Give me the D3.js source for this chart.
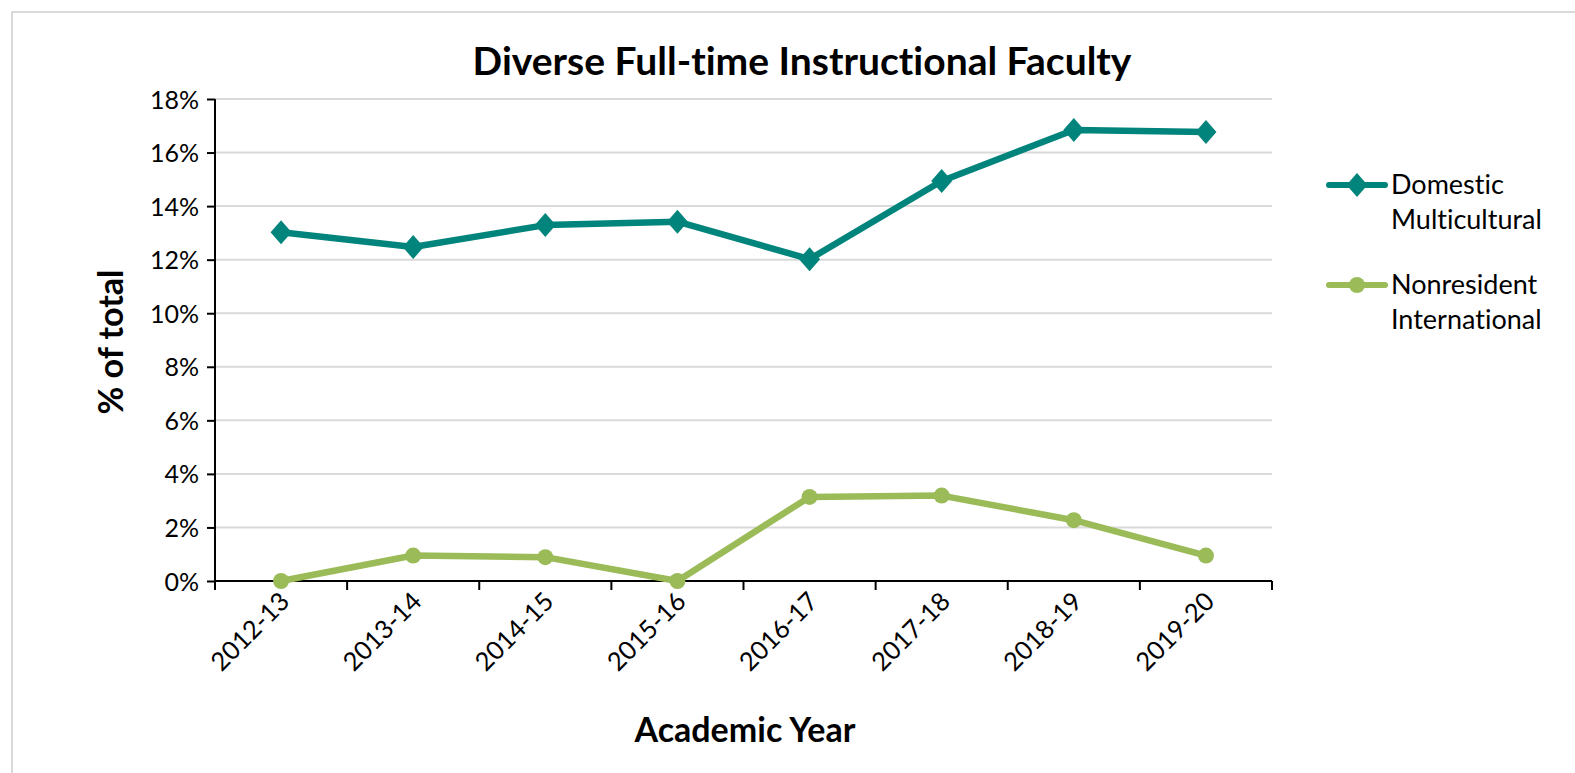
<!DOCTYPE html>
<html>
<head>
<meta charset="utf-8">
<script src="https://cdn.jsdelivr.net/npm/d3@7"></script>
<style>
  body { margin: 0; background: #fff; }
  svg { font-family: Lato, "Open Sans", sans-serif; font-variant-ligatures: none; }
  .grid line { stroke: #d9d9d9; stroke-width: 2; }
</style>
</head>
<body>
<svg width="1575" height="773"></svg>
<script>
var years = ["2012-13", "2013-14", "2014-15", "2015-16", "2016-17", "2017-18", "2018-19", "2019-20"];
var domestic = [13.02, 12.47, 13.29, 13.42, 12.02, 14.94, 16.84, 16.77];
var nonresident = [0, 0.95, 0.89, 0, 3.14, 3.19, 2.27, 0.95];
var yTicks = [0, 2, 4, 6, 8, 10, 12, 14, 16, 18];
var seriesNames = [["Domestic", "Multicultural"], ["Nonresident", "International"]];

var teal = "#00847b", green = "#9bbb59";

var svg = d3.select("svg");

// chart border
svg.append("rect")
  .attr("x", 12).attr("y", 12)
  .attr("width", 1600).attr("height", 800)
  .attr("fill", "none").attr("stroke", "#d9d9d9").attr("stroke-width", 2);

var plotLeft = 215, plotRight = 1272, plotTop = 99, plotBottom = 581;

var x = d3.scaleBand().domain(years).range([plotLeft, plotRight]);
var y = d3.scaleLinear().domain([0, 18]).range([plotBottom, plotTop]);
var cx = function(d) { return x(d) + x.bandwidth() / 2; };

// gridlines
svg.append("g").attr("class", "grid")
  .selectAll("line").data(yTicks.slice(1)).enter().append("line")
  .attr("x1", plotLeft).attr("x2", plotRight)
  .attr("y1", function(d) { return y(d); }).attr("y2", function(d) { return y(d); });

// y axis
svg.append("g")
  .attr("transform", "translate(" + plotLeft + ",0)")
  .call(d3.axisLeft(y).tickValues(yTicks).tickFormat(function(d) { return d + "%"; }).tickSize(8).tickPadding(8))
  .call(function(g) {
    g.select(".domain").attr("stroke", "#000").attr("stroke-width", 2).attr("d", "M0," + plotTop + "V" + plotBottom);
    g.selectAll(".tick line").attr("stroke", "#000").attr("stroke-width", 2);
    g.selectAll(".tick text").attr("font-size", 25).attr("fill", "#000").attr("dy", "0.36em")
      .attr("font-family", "Lato, sans-serif");
  });

// x axis: ticks on band boundaries
var xg = svg.append("g");
xg.append("line").attr("x1", plotLeft).attr("x2", plotRight).attr("y1", plotBottom).attr("y2", plotBottom)
  .attr("stroke", "#000").attr("stroke-width", 2);
xg.selectAll(".xt").data(years.concat(["end"])).enter().append("line")
  .attr("x1", function(d) { return d === "end" ? plotRight : x(d); })
  .attr("x2", function(d) { return d === "end" ? plotRight : x(d); })
  .attr("y1", plotBottom).attr("y2", plotBottom + 9)
  .attr("stroke", "#000").attr("stroke-width", 2);
xg.selectAll(".xl").data(years).enter().append("text")
  .attr("transform", function(d) { return "translate(" + (cx(d) + 10) + "," + (plotBottom + 22) + ") rotate(-45)"; })
  .attr("text-anchor", "end")
  .attr("font-size", 25.5)
  .text(function(d) { return d; });

// lines
var line = d3.line().x(function(d, i) { return cx(years[i]); }).y(function(d) { return y(d); });
var diamondPath = "M0,-12L10.5,0L0,12L-10.5,0Z";

svg.append("path").datum(nonresident)
  .attr("d", line).attr("fill", "none").attr("stroke", green).attr("stroke-width", 6.5).attr("stroke-linejoin", "round");
svg.append("g").selectAll("circle").data(nonresident).enter().append("circle")
  .attr("cx", function(d, i) { return cx(years[i]); }).attr("cy", function(d) { return y(d); })
  .attr("r", 8).attr("fill", green);

svg.append("path").datum(domestic)
  .attr("d", line).attr("fill", "none").attr("stroke", teal).attr("stroke-width", 6.5).attr("stroke-linejoin", "round");
svg.append("g").selectAll("path").data(domestic).enter().append("path")
  .attr("d", diamondPath)
  .attr("transform", function(d, i) { return "translate(" + cx(years[i]) + "," + y(d) + ")"; })
  .attr("fill", teal);

// title
svg.append("text").attr("x", 802).attr("y", 75).attr("text-anchor", "middle")
  .attr("font-size", 39).attr("font-weight", "bold").text("Diverse Full-time Instructional Faculty");

// axis titles
svg.append("text").attr("transform", "translate(123,342) rotate(-90)").attr("text-anchor", "middle")
  .attr("font-size", 34).attr("font-weight", "bold").text("% of total");
svg.append("text").attr("x", 745).attr("y", 742).attr("text-anchor", "middle")
  .attr("font-size", 34).attr("font-weight", "bold").text("Academic Year");

// legend
var legend = svg.append("g").selectAll("g").data(seriesNames).enter().append("g")
  .attr("transform", function(d, i) { return "translate(1329," + (185 + i * 100) + ")"; });
legend.append("line").attr("x1", 0).attr("x2", 56)
  .attr("stroke", function(d, i) { return i ? green : teal; }).attr("stroke-width", 6).attr("stroke-linecap", "round");
legend.filter(function(d, i) { return i === 0; }).append("path").attr("d", diamondPath).attr("transform", "translate(28,0)").attr("fill", teal);
legend.filter(function(d, i) { return i === 1; }).append("circle").attr("cx", 28).attr("r", 8).attr("fill", green);
legend.append("text").attr("x", 62).attr("y", 9).attr("font-size", 27)
  .selectAll("tspan").data(function(d) { return d; }).enter().append("tspan")
  .attr("x", 62).attr("dy", function(d, i) { return i ? 35 : 0; })
  .text(function(d) { return d; });
</script>
</body>
</html>
